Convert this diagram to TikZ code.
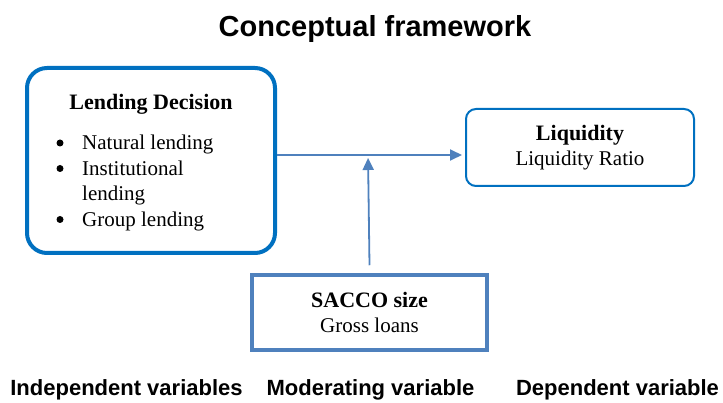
\documentclass[tikz,border=0pt]{standalone}
\usepackage{fontspec}
\setmainfont{Liberation Serif}
\setsansfont{Liberation Sans}
\usetikzlibrary{arrows.meta,positioning}
\definecolor{boxblue}{HTML}{0070C0}
\definecolor{linkblue}{HTML}{4F81BD}
\newcommand{\boxhead}[1]{{\fontsize{22}{25.5}\selectfont\textbf{#1}}}

\begin{document}
\begin{tikzpicture}[
  x=1pt, y=-1pt,
  body/.style={font=\fontsize{21}{25.5}\selectfont, inner sep=0pt, align=center},
  item/.style={body, anchor=base west},
  caption/.style={font=\sffamily\bfseries\fontsize{22}{26}\selectfont, inner sep=0pt},
  indbox/.style={draw=boxblue, line width=4pt, rounded corners=20pt, minimum width=248pt, minimum height=185pt},
  depbox/.style={draw=boxblue, line width=2pt, rounded corners=10pt, minimum width=228pt, minimum height=77pt},
  modbox/.style={draw=linkblue, line width=3.5pt, minimum width=235pt, minimum height=75pt},
  link/.style={-{Triangle[length=12pt,width=11pt]}, draw=linkblue, line width=1.8pt},
]
  \useasboundingbox (0,0) rectangle (723,403);

  % title
  \node[font=\sffamily\bfseries\fontsize{29}{33}\selectfont, inner sep=0pt] (title) at (375,29) {Conceptual framework};

  % independent variables
  \node[indbox] (ld) at (151,160.5) {};
  \node[body] (ldhead) at (151,104) {\boxhead{Lending Decision}};
  \node[item] (natural) at (82,150) {Natural lending};
  \node[item] (inst) at (82,175.5) {Institutional};
  \node[item] (instb) at (82,201) {lending};
  \node[item] (group) at (82,226.5) {Group lending};
  % bullets
  \fill (60,143) circle (3.5pt);
  \fill (60,168.5) circle (3.5pt);
  \fill (60,219.5) circle (3.5pt);

  % dependent variable
  \node[depbox, body] (liq) at (580,147.5) {\boxhead{Liquidity}\\Liquidity Ratio};

  % moderating variable
  \node[modbox, body] (sacco) at (369.5,312.5) {\boxhead{SACCO size}\\Gross loans};

  % connectors
  \coordinate (join) at (368,155);
  \draw[link, shorten >=3pt] (ld.east |- join) -- (liq.west |- join);
  \draw[link, shorten >=3pt] ([yshift=8pt]sacco.north) -- (join);

  % column captions
  \node[caption] (indcap) at (126.5,390) {Independent variables};
  \node[caption] (modcap) at (370.5,390) {Moderating variable};
  \node[caption] (depcap) at (617.5,390) {Dependent variable};
\end{tikzpicture}
\end{document}
